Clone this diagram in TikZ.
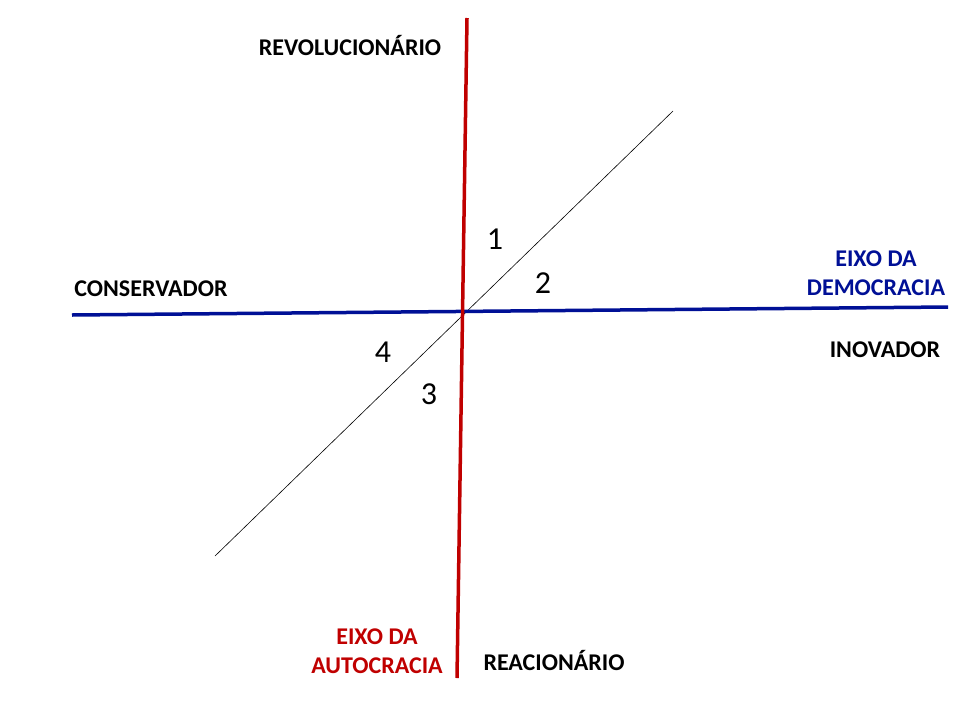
\documentclass[tikz,border=0pt]{standalone}
\usepackage{fontspec}
\setmainfont{Carlito}
\definecolor{axred}{RGB}{192,0,0}
\definecolor{axblue}{RGB}{0,16,150}
\begin{document}
\begin{tikzpicture}[x=1pt,y=-1pt,
  lbl/.style={font=\fontsize{24}{29}\selectfont\bfseries, align=center, inner sep=0pt},
  num/.style={font=\fontsize{32}{36}\selectfont, inner sep=0pt},
  axisred/.style={draw=axred, line width=3.5pt},
  axisblue/.style={draw=axblue, line width=3.5pt},
  diag/.style={draw=black, line width=0.6pt}]
\useasboundingbox (0,0) rectangle (960,720);
\fill[white] (0,0) rectangle (960,720);
\coordinate (rt) at (467,18);
\coordinate (rb) at (457,678);
\coordinate (bl) at (72,315);
\coordinate (br) at (948,307);
\coordinate (dl) at (215,556);
\coordinate (dr) at (673,111);
\draw[diag] (dl) -- (dr);
\draw[axisblue] (bl) -- (br);
\draw[axisred] (rt) -- (rb);
\node[lbl] (rev) at (350,46) {REVOLUCIONÁRIO};
\node[lbl] (con) at (151,289) {CONSERVADOR};
\node[lbl, text=axblue] (dem) at (876,273) {EIXO DA\\DEMOCRACIA};
\node[lbl] (ino) at (885,350) {INOVADOR};
\node[lbl, text=axred] (aut) at (377,651) {EIXO DA\\AUTOCRACIA};
\node[lbl] (rea) at (554,660) {REACIONÁRIO};
\node[num] (n1) at (495,239) {1};
\node[num] (n2) at (543,283) {2};
\node[num] (n4) at (383,352) {4};
\node[num] (n3) at (429,394) {3};
\end{tikzpicture}
\end{document}
